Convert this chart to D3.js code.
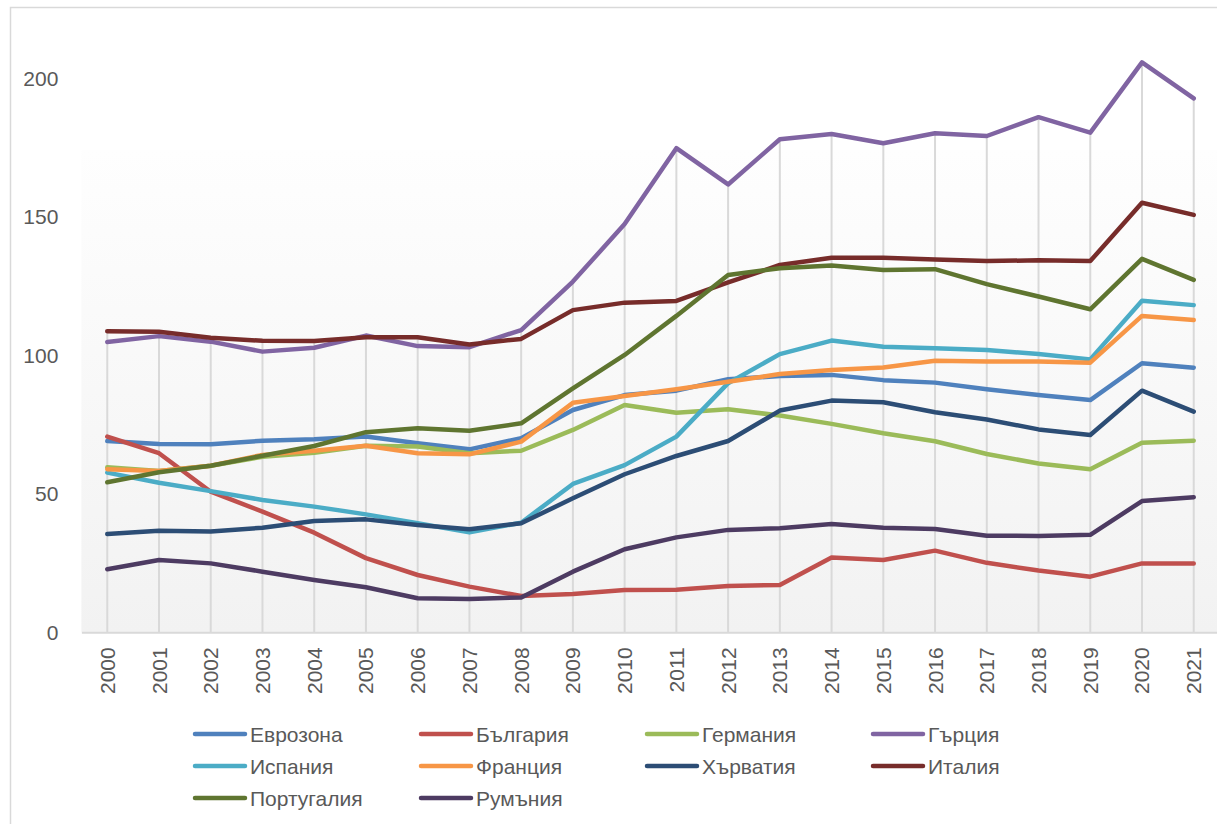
<!DOCTYPE html>
<html>
<head>
<meta charset="utf-8">
<script src="https://cdn.jsdelivr.net/npm/d3@7"></script>
<style>
  html, body { margin: 0; padding: 0; background: #ffffff; }
  svg { display: block; }
  text { font-family: "Liberation Sans", Arial, sans-serif; fill: #595959; }
</style>
</head>
<body>
<svg id="chart" width="1217" height="824"></svg>
<script>
// Debt-to-GDP ratios (%), 2000–2021
const years = ["2000","2001","2002","2003","2004","2005","2006","2007","2008","2009","2010",
               "2011","2012","2013","2014","2015","2016","2017","2018","2019","2020","2021"];

const eurozone = [69.1, 68.0, 67.9, 69.2, 69.7, 70.7, 68.3, 66.1, 70.1, 80.3, 85.7, 87.3, 91.4, 92.6, 93.0, 91.1, 90.2, 87.8, 85.7, 83.9, 97.2, 95.6];
const bulgaria = [70.7, 64.7, 50.8, 43.6, 36.0, 26.8, 20.7, 16.5, 13.1, 13.8, 15.3, 15.4, 16.7, 17.1, 27.0, 26.1, 29.5, 25.1, 22.3, 20.1, 24.9, 24.9];
const germany  = [59.6, 58.3, 60.2, 63.4, 64.9, 67.4, 67.1, 64.7, 65.6, 73.1, 82.1, 79.3, 80.6, 78.3, 75.3, 71.9, 69.0, 64.4, 61.0, 58.9, 68.5, 69.2];
const greece   = [104.9, 107.0, 105.0, 101.4, 102.8, 107.2, 103.4, 103.0, 109.2, 126.7, 147.5, 174.9, 161.8, 178.1, 180.0, 176.7, 180.3, 179.3, 186.1, 180.5, 205.9, 192.9];
const spain    = [57.7, 54.0, 51.0, 47.8, 45.4, 42.6, 39.4, 36.1, 39.6, 53.6, 60.4, 70.7, 90.0, 100.5, 105.4, 103.2, 102.6, 102.0, 100.5, 98.6, 119.8, 118.2];
const france   = [58.9, 58.3, 60.2, 64.1, 65.6, 67.4, 64.7, 64.3, 68.9, 82.9, 85.4, 87.8, 90.5, 93.3, 94.8, 95.7, 98.1, 97.8, 97.8, 97.4, 114.3, 112.8];
const croatia  = [35.5, 36.7, 36.4, 37.8, 40.2, 40.8, 38.8, 37.2, 39.4, 48.4, 57.1, 63.7, 69.1, 80.1, 83.7, 83.1, 79.5, 76.9, 73.3, 71.3, 87.3, 79.7];
const italy    = [108.8, 108.6, 106.4, 105.3, 105.2, 106.6, 106.6, 104.0, 106.0, 116.4, 119.1, 119.7, 126.4, 132.7, 135.3, 135.3, 134.7, 134.1, 134.4, 134.1, 155.2, 150.8];
const portugal = [54.2, 57.8, 60.2, 63.8, 67.3, 72.3, 73.7, 72.8, 75.5, 88.1, 100.2, 114.3, 129.1, 131.5, 132.5, 130.9, 131.2, 125.8, 121.3, 116.7, 134.9, 127.3];
const romania  = [22.8, 26.1, 24.9, 21.9, 18.9, 16.3, 12.3, 12.0, 12.6, 21.9, 30.0, 34.3, 37.0, 37.6, 39.1, 37.8, 37.3, 34.9, 34.8, 35.2, 47.4, 48.8];

const seriesNames  = ["Еврозона", "България", "Германия", "Гърция", "Испания", "Франция", "Хърватия", "Италия", "Португалия", "Румъния"];
const seriesValues = [eurozone, bulgaria, germany, greece, spain, france, croatia, italy, portugal, romania];
const seriesColors = ["#4F81BD", "#C0504D", "#9BBB59", "#8064A2", "#4BACC6", "#F79646", "#2C4D75", "#772C2A", "#5F7530", "#4D3B62"];

const yTicks = [0, 50, 100, 150, 200];

const series = seriesNames.map((name, i) => ({
  name,
  color: seriesColors[i],
  values: seriesValues[i].map((v, j) => ({ year: years[j], value: v }))
}));

const svg = d3.select("#chart");

// Chart frame (left and top edges)
svg.append("path")
  .attr("d", "M10.5,824 L10.5,7.5 L1217,7.5")
  .attr("fill", "none")
  .attr("stroke", "#d9d9d9")
  .attr("stroke-width", 1.5);

const plotLeft = 81.4, plotRight = 1219.6;
const plotBottom = 632.3, plotTopValue = 78.7;

const x = d3.scaleBand().domain(years).range([plotLeft, plotRight]).paddingInner(0).paddingOuter(0);
const xc = d => x(d) + x.bandwidth() / 2;
const y = d3.scaleLinear().domain([0, 200]).range([plotBottom, plotTopValue]);

// Plot area shading
const defs = svg.append("defs");
const grad = defs.append("linearGradient")
  .attr("id", "plotFill").attr("x1", 0).attr("y1", 0).attr("x2", 0).attr("y2", 1);
grad.append("stop").attr("offset", "0%").attr("stop-color", "#fefefe");
grad.append("stop").attr("offset", "100%").attr("stop-color", "#f2f2f2");

svg.append("rect")
  .attr("x", plotLeft).attr("y", 150)
  .attr("width", plotRight - plotLeft).attr("height", plotBottom - 150)
  .attr("fill", "url(#plotFill)");

// Drop lines from the highest value in each year down to the axis
const maxByYear = years.map((yr, j) => ({ year: yr, max: d3.max(seriesValues, s => s[j]) }));
svg.append("g").selectAll("line")
  .data(maxByYear)
  .join("line")
  .attr("x1", d => xc(d.year)).attr("x2", d => xc(d.year))
  .attr("y1", d => y(d.max)).attr("y2", y(0))
  .attr("stroke", "#d9d9d9")
  .attr("stroke-width", 2);

// Category axis
const xAxis = svg.append("g")
  .attr("transform", `translate(0,${plotBottom})`)
  .call(d3.axisBottom(x).tickSize(0).tickPadding(0));
xAxis.select(".domain").attr("stroke", "#d9d9d9").attr("stroke-width", 2);
xAxis.selectAll("text")
  .attr("font-size", 21)
  .attr("fill", "#595959")
  .attr("text-anchor", "end")
  .attr("dominant-baseline", "central")
  .attr("transform", "rotate(-90)")
  .attr("x", -15)
  .attr("y", 0)
  .attr("dy", null);

// Value axis
const yAxis = svg.append("g")
  .attr("transform", `translate(${plotLeft},0)`)
  .call(d3.axisLeft(y).tickValues(yTicks).tickSize(0).tickPadding(23));
yAxis.select(".domain").remove();
yAxis.selectAll("text")
  .attr("font-size", 21)
  .attr("fill", "#595959");

// Series lines
const line = d3.line()
  .x(d => xc(d.year))
  .y(d => y(d.value));

svg.append("g").selectAll("path")
  .data(series)
  .join("path")
  .attr("d", d => line(d.values))
  .attr("fill", "none")
  .attr("stroke", d => d.color)
  .attr("stroke-width", 4.5)
  .attr("stroke-linejoin", "round")
  .attr("stroke-linecap", "round");

// Legend
const legendCols = 4;
const colX = [193, 419, 645, 871];
const rowY = [734, 766, 798];
const legend = svg.append("g").selectAll("g")
  .data(series)
  .join("g")
  .attr("transform", (d, i) => `translate(${colX[i % legendCols]},${rowY[Math.floor(i / legendCols)]})`);

legend.append("line")
  .attr("x1", 2).attr("x2", 52)
  .attr("y1", 0).attr("y2", 0)
  .attr("stroke", d => d.color)
  .attr("stroke-width", 4.5)
  .attr("stroke-linecap", "round");

legend.append("text")
  .attr("x", 57)
  .attr("y", 0)
  .attr("dominant-baseline", "central")
  .attr("font-size", 21)
  .text(d => d.name);
</script>
</body>
</html>
